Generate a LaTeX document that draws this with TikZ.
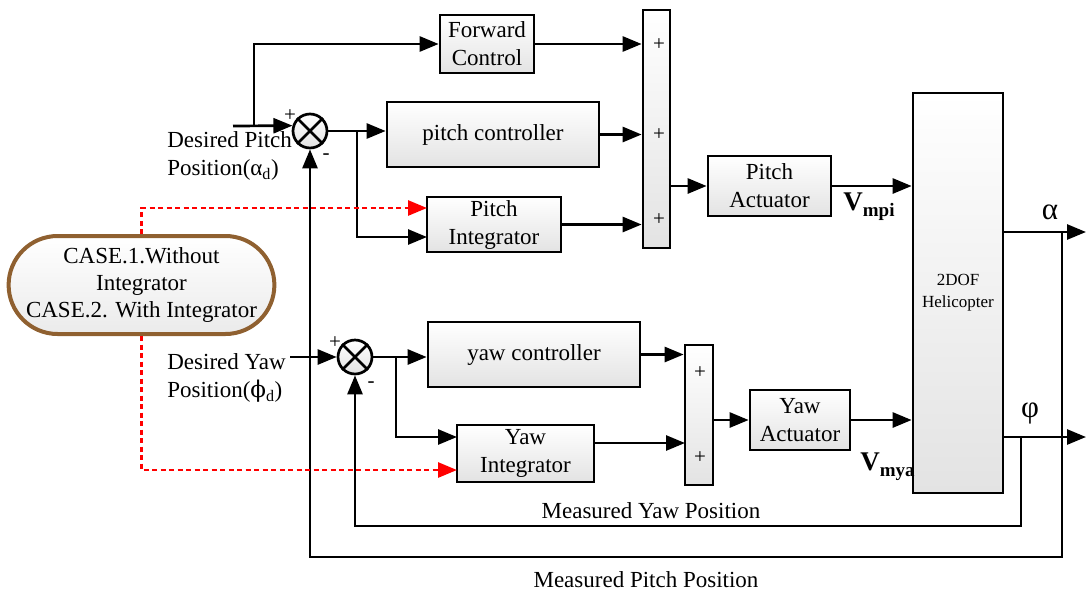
\documentclass[tikz,border=0pt]{standalone}
\usepackage{fontspec}
\setmainfont{Liberation Serif}
\newfontfamily\djv{DejaVu Serif}
\usetikzlibrary{arrows.meta,shapes.misc,positioning}
\begin{document}
\begin{tikzpicture}[x=1pt,y=-1pt,
  line width=2.7pt,
  arr/.style={-{Triangle[length=19pt,width=15pt]}},
  rarr/.style={-{Triangle[length=19pt,width=15pt,fill=red]}},
  blk/.style={draw,line width=2.7pt,inner sep=0pt,top color=white,bottom color=black!11,font=\fontsize{23}{28}\selectfont,align=center},
  sumc/.style={draw,circle,line width=2.7pt,minimum size=34pt,inner sep=0pt,top color=white,bottom color=black!11},
  redd/.style={red,dash pattern=on 5pt off 3.5pt,line width=2.8pt},
  lbl/.style={font=\fontsize{23}{28}\selectfont,inner sep=0pt},
  sml/.style={font=\fontsize{17}{20}\selectfont,inner sep=0pt},
  pls/.style={font=\fontsize{21}{24}\selectfont,inner sep=0pt}]
\useasboundingbox (0,0) rectangle (1086,592);
% blocks
\node[blk,minimum width=94pt,minimum height=58pt] (fwd) at (487,44) {Forward\\Control};
\node[blk,minimum width=212pt,minimum height=65pt] (pc) at (493,134.5) {pitch controller};
\node[blk,minimum width=134pt,minimum height=55pt] (pint) at (494,224.5) {Pitch\\Integrator};
\node[blk,minimum width=27pt,minimum height=238pt] (pbar) at (656.5,129) {};
\node[blk,minimum width=123pt,minimum height=60pt] (pact) at (769.5,186) {Pitch\\Actuator};
\node[blk,minimum width=90pt,minimum height=400pt,font=\fontsize{17}{22}\selectfont] (heli) at (958,293) {2DOF\\Helicopter};
\node[sumc] (psum) at (310,131) {};
\node[sumc] (ysum) at (355,357) {};
\node[blk,minimum width=212pt,minimum height=65pt] (yc) at (534,354.5) {yaw controller};
\node[blk,minimum width=137pt,minimum height=57pt] (yint) at (525.5,453.5) {Yaw\\Integrator};
\node[blk,minimum width=28pt,minimum height=140pt] (ybar) at (699,415) {};
\node[blk,minimum width=100pt,minimum height=60pt] (yact) at (800,420) {Yaw\\Actuator};
\node[draw=brown!75!black,line width=4pt,rounded rectangle,minimum width=263pt,minimum height=98pt,inner sep=0pt,top color=white,bottom color=black!8,align=center,font=\fontsize{23}{27}\selectfont] (case) at (141.5,285) {CASE.1.Without\\Integrator\\CASE.2. With Integrator};
% crosses in summing circles
\draw (psum.north west) -- (psum.south east) (psum.north east) -- (psum.south west);
\draw (ysum.north west) -- (ysum.south east) (ysum.north east) -- (ysum.south west);
% plus signs in bars
\foreach \y/\n in {45/pp1,135/pp2,220/pp3} \node[pls] (\n) at (659,\y) {+};
\foreach \y/\n in {373/yp1,458/yp2} \node[pls] (\n) at (700,\y) {+};
% signs near circles
\node[pls] (ps1) at (290,116) {+};
\node[pls] (ps2) at (326,157) {-};
\node[pls] (ys1) at (335,343) {+};
\node[pls] (ys2) at (371,385) {-};
% coordinates
\coordinate (pin) at (233,126);
\coordinate (pbr) at (254,126);
\coordinate (pbr2) at (357,131);
\coordinate (pintin) at (427,237);
\coordinate (pintred) at (427,208);
\coordinate (yin) at (290,357);
\coordinate (ybr) at (396,357);
\coordinate (yintin) at (457,437);
\coordinate (yintred) at (457,470);
\coordinate (yb2) at (685,443);
\coordinate (aj) at (1062,232);
\coordinate (aend) at (1086,232);
\coordinate (pfb) at (1062,557);
\coordinate (pj) at (1021,437);
\coordinate (pend) at (1086,437);
\coordinate (yfb) at (1021,526);
% pitch channel
\draw[arr] (pin) -- (psum.163);
\draw[arr] (pbr) |- (fwd.west);
\draw[arr] (psum.east) -- (pc.west |- psum.east);
\draw[arr] (pbr2) |- (pintin);
\draw[arr] (fwd.east) -- (pbar.west |- fwd.east);
\draw[arr] (pc.east) -- (pbar.west |- pc.east);
\draw[arr] (pint.east) -- (pbar.west |- pint.east);
\draw[arr] (pbar.east |- pact.west) -- (pact.west);
\draw[arr] (pact.east) -- (heli.west |- pact.east);
% yaw channel
\draw[arr] (yin) -- (ysum.west);
\draw[arr] (ysum.east) -- (yc.west |- ysum.east);
\draw[arr] (ybr) |- (yintin);
\draw[arr] (yc.east) -- (ybar.west |- yc.east);
\draw[arr] (yb2 -| yint.east) -- (yb2);
\draw[arr] (ybar.east |- yact.west) -- (yact.west);
\draw[arr] (yact.east) -- (heli.west |- yact.east);
% outputs and feedback
\draw[arr] (aj -| heli.east) -- (aend);
\draw[arr] (aj) -- (pfb) -| (psum.south);
\draw[arr] (pj -| heli.east) -- (pend);
\draw[arr] (pj) -- (yfb) -| (ysum.south);
% red dashed
\draw[redd,rarr] (case.north) |- (pintred);
\draw[redd,rarr] (case.south) |- (yintred);
% labels
\node[lbl,anchor=west,align=left] (dp) at (166,156) {Desired Pitch\\Position(α\textsubscript{d})};
\node[lbl,anchor=west,align=left] (dy) at (166,378) {Desired Yaw\\Position({\djv ϕ}\textsubscript{d})};
\node[lbl] (myp) at (651,511) {Measured Yaw Position};
\node[lbl] (mpp) at (646,580) {Measured Pitch Position};
\node[inner sep=0pt,anchor=west,font=\fontsize{27}{30}\selectfont\bfseries] (vmpi) at (842,207) {V\raisebox{-6pt}{\fontsize{19}{20}\selectfont mpi}};
\node[inner sep=0pt,anchor=west,font=\fontsize{27}{30}\selectfont\bfseries] (vmya) at (859,467) {V\raisebox{-6pt}{\fontsize{19}{20}\selectfont mya}};
\node[inner sep=0pt,font=\fontsize{31}{34}\selectfont] (al) at (1050,212) {α};
\node[inner sep=0pt,font=\fontsize{31}{34}\selectfont] (ph) at (1030,413) {φ};
\end{tikzpicture}
\end{document}
